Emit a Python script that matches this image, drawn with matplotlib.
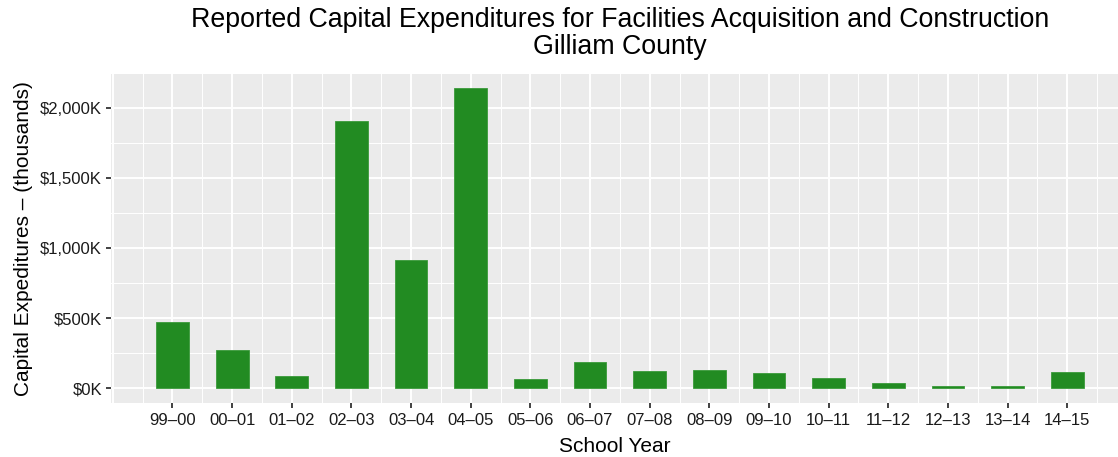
import matplotlib.pyplot as plt
import numpy as np
from matplotlib.ticker import FuncFormatter

plt.rcParams['font.family'] = ['Liberation Sans', 'DejaVu Sans']

# data (thousands of dollars)
years = ["99–00", "00–01", "01–02", "02–03", "03–04", "04–05", "05–06", "06–07",
         "07–08", "08–09", "09–10", "10–11", "11–12", "12–13", "13–14", "14–15"]
spend = [473, 273, 88, 1907, 912, 2143, 68, 190,
         120, 130, 112, 70, 37, 15, 15, 117]

fig = plt.figure(figsize=(11.18, 4.57), dpi=100)
ax = fig.add_axes([0.0993, 0.1182, 0.9007, 0.7199])
ax.set_facecolor("#EBEBEB")

x = np.arange(len(years))
ax.bar(x, spend, width=0.55, color="#228B22", edgecolor="#3A9A3A", linewidth=0.6, zorder=3)

# grid like ggplot
ax.set_xlim(-1.03, len(years) - 0.15)
ax.set_ylim(-105, 2240)
yt = np.arange(0, 2001, 500)
ax.set_yticks(yt)
for v in yt:
    ax.axhline(v, color="white", lw=1.4, zorder=1)
for v in np.arange(250, 2001, 500):
    ax.axhline(v, color="white", lw=0.7, zorder=1)
for v in x:
    ax.axvline(v, color="white", lw=1.4, zorder=1)
ax.axvline(-1, color="white", lw=1.4, zorder=1)
for v in np.arange(-0.5, len(years), 1.0):
    ax.axvline(v, color="white", lw=0.7, zorder=1)

ax.set_xticks(x)
ax.set_xticklabels(years)
ax.yaxis.set_major_formatter(FuncFormatter(lambda v, p: f"${v:,.0f}K"))
ax.tick_params(axis="both", length=3.5, width=1.3, color="#333333",
               labelcolor="#1A1A1A", labelsize=12)
ax.tick_params(axis="x", pad=3.5)
ax.tick_params(axis="y", pad=3)
for s in ax.spines.values():
    s.set_visible(False)

ax.set_xlabel("School Year", fontsize=15, labelpad=7)
ax.set_ylabel("Capital Expeditures – (thousands)", fontsize=15, labelpad=5)

fig.text(0.5546, 1 - 20 / 457, "Reported Capital Expenditures for Facilities Acquisition and Construction",
         fontsize=19.3, ha="center", va="center")
fig.text(0.5546, 1 - 47 / 457, "Gilliam County", fontsize=19.3, ha="center", va="center")

fig.savefig("out.png", dpi=100)
